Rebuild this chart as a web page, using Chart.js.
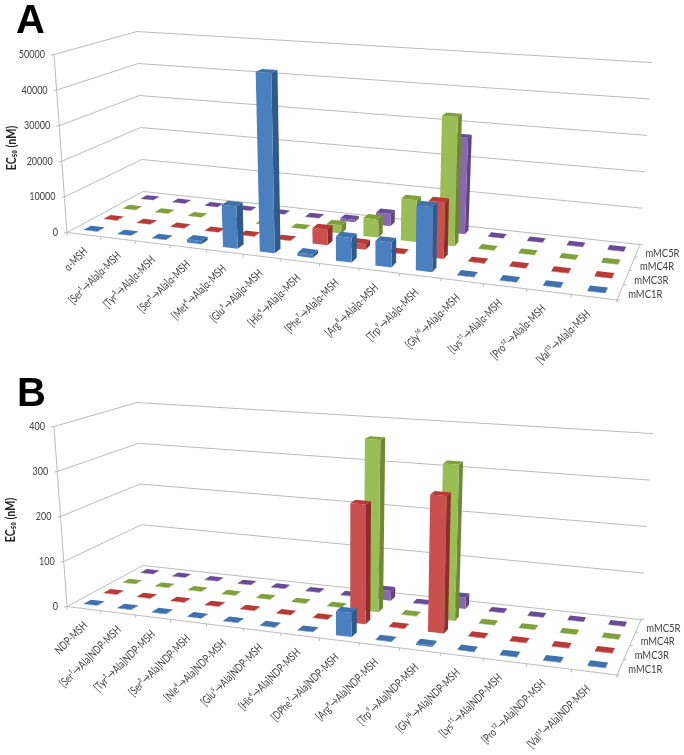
<!DOCTYPE html>
<html>
<head>
<meta charset="utf-8">
<title>EC50 alanine scan</title>
<script src="https://cdn.jsdelivr.net/npm/chart.js@4"></script>
<style>
  html, body { margin: 0; padding: 0; background: #fff; }
  .panel { position: absolute; left: 0; width: 684px; height: 375px; }
  #panelA { top: 0; }
  #panelB { top: 375px; }
  canvas { filter: blur(0.35px); }
</style>
</head>
<body>
<div class="panel" id="panelA"><canvas id="chartA"></canvas></div>
<div class="panel" id="panelB"><canvas id="chartB"></canvas></div>
<script>
const seriesNames = ['mMC1R', 'mMC3R', 'mMC4R', 'mMC5R'];

const labelsA = ['α-MSH', '[Ser¹→Ala]α-MSH', '[Tyr²→Ala]α-MSH', '[Ser³→Ala]α-MSH', '[Met⁴→Ala]α-MSH',
    '[Glu⁵→Ala]α-MSH', '[His⁶→Ala]α-MSH', '[Phe⁷→Ala]α-MSH', '[Arg⁸→Ala]α-MSH', '[Trp⁹→Ala]α-MSH',
    '[Gly¹⁰→Ala]α-MSH', '[Lys¹¹→Ala]α-MSH', '[Pro¹²→Ala]α-MSH', '[Val¹³→Ala]α-MSH'];
const mc1rA = [100, 100, 100, 900, 11500, 48500, 900, 6500, 6500, 17000, 100, 100, 100, 100];
const mc3rA = [100, 100, 100, 100, 100, 100, 4300, 1500, 100, 15000, 100, 100, 100, 100];
const mc4rA = [100, 100, 100, 100, 100, 100, 2300, 5000, 11500, 35300, 100, 100, 100, 100];
const mc5rA = [100, 100, 100, 100, 100, 100, 700, 3500, 100, 27000, 100, 100, 100, 100];

const labelsB = ['NDP-MSH', '[Ser¹→Ala]NDP-MSH', '[Tyr²→Ala]NDP-MSH', '[Ser³→Ala]NDP-MSH', '[Nle⁴→Ala]NDP-MSH',
    '[Glu⁵→Ala]NDP-MSH', '[His⁶→Ala]NDP-MSH', '[DPhe⁷→Ala]NDP-MSH', '[Arg⁸→Ala]NDP-MSH', '[Trp⁹→Ala]NDP-MSH',
    '[Gly¹⁰→Ala]NDP-MSH', '[Lys¹¹→Ala]NDP-MSH', '[Pro¹²→Ala]NDP-MSH', '[Val¹³→Ala]NDP-MSH'];
const mc1rB = [1, 1, 1, 1, 1, 1, 1, 50, 1, 3, 1, 1, 1, 1];
const mc3rB = [1, 1, 1, 1, 1, 1, 1, 255, 1, 288, 1, 1, 1, 1];
const mc4rB = [1, 1, 1, 1, 1, 1, 1, 376, 1, 335, 1, 1, 1, 1];
const mc5rB = [1, 1, 1, 1, 1, 1, 1, 22, 1, 25, 1, 1, 1, 1];

const FRONT = ['#4a7fc0', '#c9504d', '#9bbd55', '#8a68ad'];
const SIDE = ['#2f5a8c', '#8c2f2c', '#6e8a38', '#5f4680'];
const TOP = ['#3f72ad', '#b83a36', '#7fa03a', '#6a4a95'];
const GRID = '#bbbbbb';
const TEXT = '#404040';

// maps (u along categories, w into depth) on to the floor, both 0..1
function floorMap(q) {
    const [p0, p1, p2, p3] = [q.fl, q.fr, q.br, q.bl];
    const sx = p0[0] - p1[0] + p2[0] - p3[0];
    const sy = p0[1] - p1[1] + p2[1] - p3[1];
    const dx1 = p1[0] - p2[0], dx2 = p3[0] - p2[0];
    const dy1 = p1[1] - p2[1], dy2 = p3[1] - p2[1];
    const den = dx1 * dy2 - dx2 * dy1;
    const g = (sx * dy2 - dx2 * sy) / den;
    const h = (dx1 * sy - sx * dy1) / den;
    const a = p1[0] - p0[0] + g * p1[0], b = p3[0] - p0[0] + h * p3[0];
    const d = p1[1] - p0[1] + g * p1[1], e = p3[1] - p0[1] + h * p3[1];
    return (u, w) => {
        const t = g * u + h * w + 1;
        return [(a * u + b * w + p0[0]) / t, (d * u + e * w + p0[1]) / t];
    };
}

function heightVec(q, u, w) {
    const mix = (k) => (1 - u) * (1 - w) * q.upFl[k] + u * (1 - w) * q.upFr[k] + u * w * q.upBr[k] + (1 - u) * w * q.upBl[k];
    return [mix(0), mix(1)];
}

function poly(ctx, pts, fill) {
    ctx.beginPath();
    pts.forEach((p, i) => i ? ctx.lineTo(p[0], p[1]) : ctx.moveTo(p[0], p[1]));
    ctx.closePath();
    ctx.fillStyle = fill;
    ctx.fill();
}

function line(ctx, a, b) {
    ctx.beginPath();
    ctx.moveTo(a[0], a[1]);
    ctx.lineTo(b[0], b[1]);
    ctx.stroke();
}

// Lato is wider than the original Calibri, so the text gets squeezed
function squeezed(ctx, str, x, y, angle, squeeze) {
    ctx.save();
    ctx.translate(x, y);
    ctx.rotate(angle);
    ctx.scale(squeeze, 1);
    ctx.fillText(str, 0, 0);
    ctx.restore();
}

const perspective = {
    id: 'perspective',
    beforeDatasetsDraw(chart, args, opts) {
        const ctx = chart.ctx;
        const area = chart.chartArea;
        const yScale = chart.scales.y;
        const xScale = chart.scales.x;
        const q = opts.quad;
        const floor = floorMap(q);
        const project = (u, w, frac) => {
            const p = floor(u, w);
            const v = heightVec(q, u, w);
            return [p[0] + v[0] * frac, p[1] + v[1] * frac];
        };
        const fracOf = (val) => (yScale.getPixelForValue(0) - yScale.getPixelForValue(val)) / area.height;
        const n = chart.data.labels.length;

        ctx.save();
        ctx.strokeStyle = GRID;
        ctx.lineWidth = 1;

        // walls
        yScale.ticks.forEach((t) => {
            const f = fracOf(t.value);
            const a = project(0, 0, f), b = project(0, 1, f), c = project(1, 1, f);
            line(ctx, a, b);
            line(ctx, b, c);
            line(ctx, a, [a[0] - 3, a[1] + 0.5]);
            ctx.fillStyle = TEXT;
            ctx.font = '11px Lato';
            ctx.textAlign = 'right';
            ctx.textBaseline = 'middle';
            squeezed(ctx, String(t.value), a[0] - 9, a[1], 0, 0.82);
        });
        line(ctx, project(0, 0, 0), project(0, 0, fracOf(yScale.max)));

        // floor edges and ticks
        const fl = floor(0, 0), fr = floor(1, 0), br = floor(1, 1);
        line(ctx, fl, fr);
        line(ctx, fr, br);
        for (let i = 0; i <= n; i++) {
            const p = floor(i / n, 0);
            line(ctx, p, [p[0], p[1] + 3]);
        }
        for (let s = 0; s <= seriesNames.length; s++) {
            const p = floor(1, s / seriesNames.length);
            line(ctx, p, [p[0] + 3, p[1]]);
        }

        // bars, back row first so the front ones cover them
        for (let d = chart.data.datasets.length - 1; d >= 0; d--) {
            const meta = chart.getDatasetMeta(d);
            const w0 = (d + 0.5 - opts.barDepth / 2) / 4, w1 = (d + 0.5 + opts.barDepth / 2) / 4;
            meta.data.forEach((el) => {
                const uc = (el.x - area.left) / area.width;
                const half = opts.barWidth / 2 / n;
                const u0 = uc - half, u1 = uc + half;
                const f = (el.base - el.y) / area.height;
                const a0 = project(u0, w0, 0), a1 = project(u1, w0, 0);
                const b1 = project(u1, w1, 0);
                const t0 = project(u0, w0, f), t1 = project(u1, w0, f);
                const t2 = project(u1, w1, f), t3 = project(u0, w1, f);
                poly(ctx, [a1, b1, t2, t1], SIDE[d]);
                poly(ctx, [a0, a1, t1, t0], FRONT[d]);
                poly(ctx, [t0, t1, t2, t3], TOP[d]);
            });
        }

        // category labels
        ctx.fillStyle = TEXT;
        ctx.font = '11.5px Lato';
        ctx.textBaseline = 'middle';
        ctx.textAlign = 'right';
        chart.data.labels.forEach((lab, i) => {
            const u = (xScale.getPixelForValue(i) - area.left) / area.width;
            const p = floor(u, 0);
            squeezed(ctx, lab, p[0] + 2 - 8 * u, p[1] + 15, -Math.PI / 4, 0.75);
        });

        // series labels
        ctx.textAlign = 'left';
        ctx.font = '11.5px Lato';
        seriesNames.forEach((name, s) => {
            const p = floor(1, (s + 0.5) / seriesNames.length);
            squeezed(ctx, name, p[0] + 8, p[1] + 2.5, 0, 0.82);
        });

        // axis title and panel letter
        ctx.fillStyle = '#222';
        ctx.textAlign = 'center';
        ctx.font = 'bold 13px Lato';
        squeezed(ctx, 'EC₅₀ (nM)', opts.titleX, opts.titleY, -Math.PI / 2, 0.82);

        ctx.fillStyle = '#000';
        ctx.font = 'bold 40px "Liberation Sans"';
        ctx.textAlign = 'left';
        ctx.textBaseline = 'alphabetic';
        ctx.fillText(opts.letter, opts.letterX, opts.letterY);

        ctx.restore();
        return false;
    }
};

function makeChart(id, labels, seriesData, yMax, yStep, opts) {
    return new Chart(document.getElementById(id), {
        type: 'bar',
        data: {
            labels: labels,
            datasets: seriesData.map((data, i) => ({
                label: seriesNames[i],
                data: data,
                grouped: false,
                backgroundColor: FRONT[i]
            }))
        },
        options: {
            responsive: false,
            animation: false,
            layout: { padding: 0 },
            plugins: {
                legend: { display: false },
                tooltip: { enabled: false },
                perspective: opts
            },
            scales: {
                x: { display: false },
                y: { display: false, min: 0, max: yMax, ticks: { stepSize: yStep } }
            }
        },
        plugins: [perspective]
    });
}

document.querySelectorAll('canvas').forEach((c) => { c.width = 684; c.height = 375; });

makeChart('chartA', labelsA, [mc1rA, mc3rA, mc4rA, mc5rA], 50000, 10000, {
    letter: 'A', letterX: 16, letterY: 33, titleX: 12, titleY: 148,
    barWidth: 0.4, barDepth: 0.36,
    quad: {
        fl: [67, 232.5], fr: [617, 300], br: [640, 244.6], bl: [143, 191.5],
        upFl: [-13, -178], upFr: [9, -201], upBr: [12, -182], upBl: [-6, -160]
    }
});

makeChart('chartB', labelsB, [mc1rB, mc3rB, mc4rB, mc5rB], 400, 100, {
    letter: 'B', letterX: 17, letterY: 31, titleX: 11, titleY: 145,
    barWidth: 0.4, barDepth: 0.36,
    quad: {
        fl: [67, 231.5], fr: [617, 300], br: [641, 244.6], bl: [143, 190.5],
        upFl: [-13, -180], upFr: [9, -205], upBr: [12, -186], upBl: [-6, -163]
    }
});
</script>
</body>
</html>
